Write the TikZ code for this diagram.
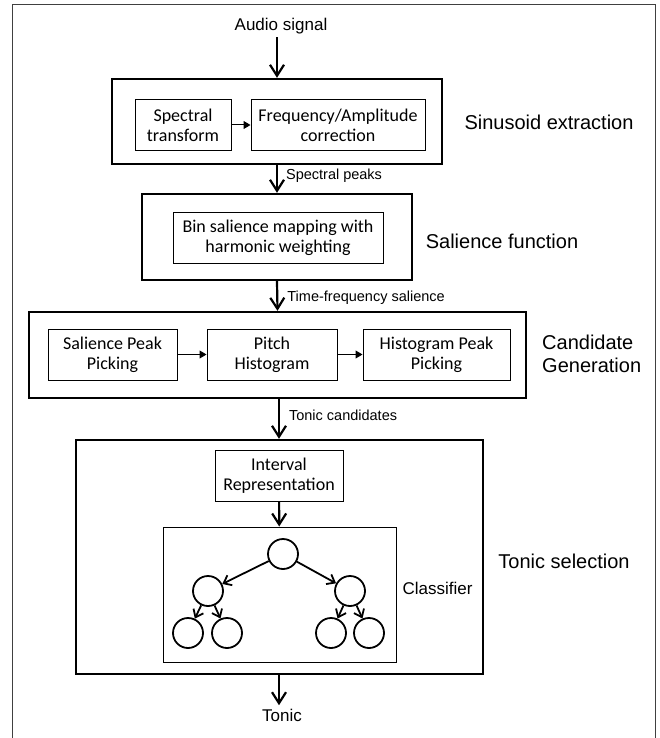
\documentclass[tikz,border=0pt]{standalone}
\usepackage{fontspec}
\setmainfont{Liberation Sans}
\newfontfamily\boxfont{Carlito}
\usetikzlibrary{arrows.meta, positioning}

\begin{document}
\begin{tikzpicture}[x=1pt, y=-1pt,
	stage/.style={draw, line width=2.4pt, inner sep=0pt},
	block/.style={draw, line width=1pt, align=center, inner sep=0pt,
		minimum height=51pt, font=\boxfont\fontsize{18pt}{20pt}\selectfont},
	leaf/.style={draw, circle, line width=1.8pt, minimum size=30pt, inner sep=0pt},
	flow/.style={line width=2.2pt, -{Straight Barb[length=11pt, width=14pt]}},
	link/.style={line width=1pt, -{Triangle[length=7pt, width=8pt]}},
	branch/.style={line width=1.8pt, -{Straight Barb[length=7pt, width=11pt]}},
	title/.style={font=\fontsize{20pt}{23pt}\selectfont, align=left},
	note/.style={font=\fontsize{14.5pt}{16pt}\selectfont, right, inner sep=0pt}]
	\useasboundingbox (0, 0) rectangle (660, 738);
	\draw[line width=1pt, black!75] (12, 738) -- (12, 5) -- (655, 5) -- (655, 738);

	\node[font=\fontsize{17pt}{20pt}\selectfont] (audio) at (281, 26) {Audio signal};

	% sinusoid extraction
	\node[stage, minimum width=330pt, minimum height=85pt] (sinus) at (277, 121.5) {};
	\node[block, minimum width=96pt] (spectrans) at (183, 125) {Spectral\\transform};
	\node[block, minimum width=174pt] (freqcorr) at (338, 125) {Frequency/Amplitude\\correction};
	\node[title] (sinuslabel) at (549, 122) {Sinusoid extraction};

	% salience function
	\node[stage, minimum width=270pt, minimum height=86pt] (salience) at (277, 237) {};
	\node[block, minimum width=210pt] (binsal) at (278, 237.5) {Bin salience mapping with\\harmonic weighting};
	\node[title] (saliencelabel) at (502, 241) {Salience function};

	% candidate generation
	\node[stage, minimum width=497pt, minimum height=86pt] (cand) at (277.5, 355) {};
	\node[block, minimum width=129pt] (salpeak) at (112.5, 354.5) {Salience Peak\\Picking};
	\node[block, minimum width=130pt] (pitchhist) at (272, 354.5) {Pitch\\Histogram};
	\node[block, minimum width=147pt] (histpeak) at (436.5, 354.5) {Histogram Peak\\Picking};
	\node[title, anchor=west, inner sep=0pt] (candlabel) at (542, 354) {Candidate\\Generation};

	% tonic selection
	\node[stage, minimum width=407pt, minimum height=234pt] (tonicsel) at (279.5, 557) {};
	\node[block, minimum width=128pt] (interval) at (279, 475.5) {Interval\\Representation};
	\node[draw, line width=1pt, minimum width=233pt, minimum height=135pt] (classbox) at (279.5, 594.5) {};
	\node[font=\fontsize{17pt}{20pt}\selectfont] (classlabel) at (437.5, 588) {Classifier};
	\node[title] (toniclabel) at (564, 561) {Tonic selection};

	\node[leaf] (root) at (283, 554) {};
	\node[leaf] (lmid) at (208, 591) {};
	\node[leaf] (rmid) at (350, 591) {};
	\node[leaf] (lleaf1) at (188, 633) {};
	\node[leaf] (lleaf2) at (227, 633) {};
	\node[leaf] (rleaf1) at (331, 633) {};
	\node[leaf] (rleaf2) at (369, 633) {};

	\node[font=\fontsize{17pt}{20pt}\selectfont] (tonic) at (282, 715) {Tonic};

	\draw[flow] (sinus.north |- audio.south) -- (sinus.north);
	\draw[flow] (sinus.south) -- (salience.north)
		node[note, pos=0.4, xshift=8pt] (peaks) {Spectral peaks};
	\draw[flow] (salience.south) -- (cand.north)
		node[note, pos=0.55, xshift=9pt] (tfsal) {Time-frequency salience};
	\draw[flow] (cand.south -| interval) -- (tonicsel.north -| interval)
		node[note, pos=0.4, xshift=9pt] (candidates) {Tonic candidates};
	\draw[flow] (interval) -- (classbox);
	\draw[flow] (tonicsel.south -| interval) -- (tonic.north -| interval);

	\draw[link] (spectrans) -- (freqcorr);
	\draw[link] (salpeak) -- (pitchhist);
	\draw[link] (pitchhist) -- (histpeak);

	\draw[branch] (root) -- (lmid);
	\draw[branch] (root) -- (rmid);
	\foreach \from/\to in {lmid/lleaf1, lmid/lleaf2, rmid/rleaf1, rmid/rleaf2}
		\draw[branch] (\from) -- (\to);
\end{tikzpicture}
\end{document}
